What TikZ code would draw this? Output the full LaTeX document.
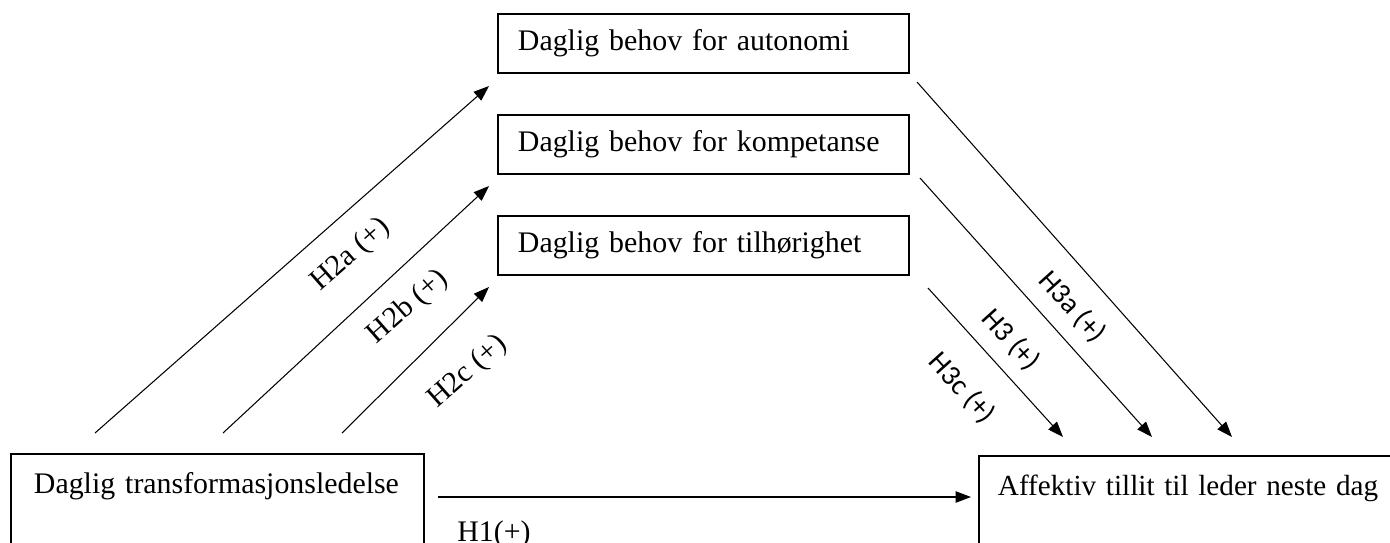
\documentclass[tikz,border=0pt]{standalone}
\usepackage{fontspec}
\setmainfont{Liberation Serif}
\newfontfamily\carlito{Carlito}
\usetikzlibrary{positioning,arrows.meta}

\begin{document}
\begin{tikzpicture}[x=0.02cm, y=-0.02cm,
    >={Triangle[length=0.31cm, width=0.23cm]},
    needbox/.style={draw, line width=1.1pt, anchor=west, align=left,
      text width=7.42cm, inner xsep=0.4cm, minimum height=1.18cm,
      font=\fontsize{17}{20}\selectfont},
    bigbox/.style={draw, line width=1.1pt, anchor=north west, align=left,
      inner xsep=0.46cm, inner ysep=0.3cm, text height=0.5cm, text depth=1.2cm,
      font=\fontsize{17}{20}\selectfont},
    hyp/.style={->, line width=0.6pt},
    lab/.style={font=\fontsize{17}{20}\selectfont},
    labs/.style={font=\carlito\fontsize{16.5}{20}\selectfont}]
  \useasboundingbox (0,0) rectangle (1390,542);

  % mediators
  \node (auto) [needbox] at (497,43.5) {Daglig behov for autonomi};
  \node (komp) [needbox, below=0.8cm of auto] {Daglig behov for kompetanse};
  \node (tilh) [needbox, below=0.8cm of komp] {Daglig behov for tilh\o righet};

  % predictor and outcome
  \node (trans) [bigbox, text width=7.34cm] at (10,453)
    {Daglig transformasjonsledelse};
  \node (aff) [bigbox, text width=8cm, inner xsep=0.38cm,
    font=\fontsize{16.6}{20}\selectfont] at (978,455)
    {Affektiv tillit til leder neste dag};

  % free ends of the paths
  \coordinate (a1) at (95,433);  \coordinate (a2) at (489,86);
  \coordinate (b1) at (223,433); \coordinate (b2) at (489,186);
  \coordinate (c1) at (342,433); \coordinate (c2) at (489,287);
  \coordinate (d1) at (917,82);  \coordinate (d2) at (1232,437);
  \coordinate (e1) at (920,178); \coordinate (e2) at (1152,437);
  \coordinate (f1) at (928,288); \coordinate (f2) at (1063,437);
  \coordinate (g1) at (438,497); \coordinate (g2) at (971,497);

  \draw[hyp] (a1) -- (a2);
  \draw[hyp] (b1) -- (b2);
  \draw[hyp] (c1) -- (c2);
  \draw[hyp] (d1) -- (d2);
  \draw[hyp] (e1) -- (e2);
  \draw[hyp] (f1) -- (f2);
  \draw[hyp] (g1) -- (g2);

  % hypothesis labels
  \node (l2a) [lab, rotate=41.4] at (351,255) {H2a (+)};
  \node (l2b) [lab, rotate=41.4] at (408,307) {H2b (+)};
  \node (l2c) [lab, rotate=41.4] at (468,372) {H2c (+)};
  \node (l3a) [labs, rotate=-48] at (1072,307) {H3a (+)};
  \node (l3b) [labs, rotate=-48] at (1011,340) {H3 (+)};
  \node (l3c) [labs, rotate=-48] at (962,388) {H3c (+)};
  \node (l1) [lab, anchor=base west, inner sep=0pt] at (457,541) {H1(+)};
\end{tikzpicture}
\end{document}
